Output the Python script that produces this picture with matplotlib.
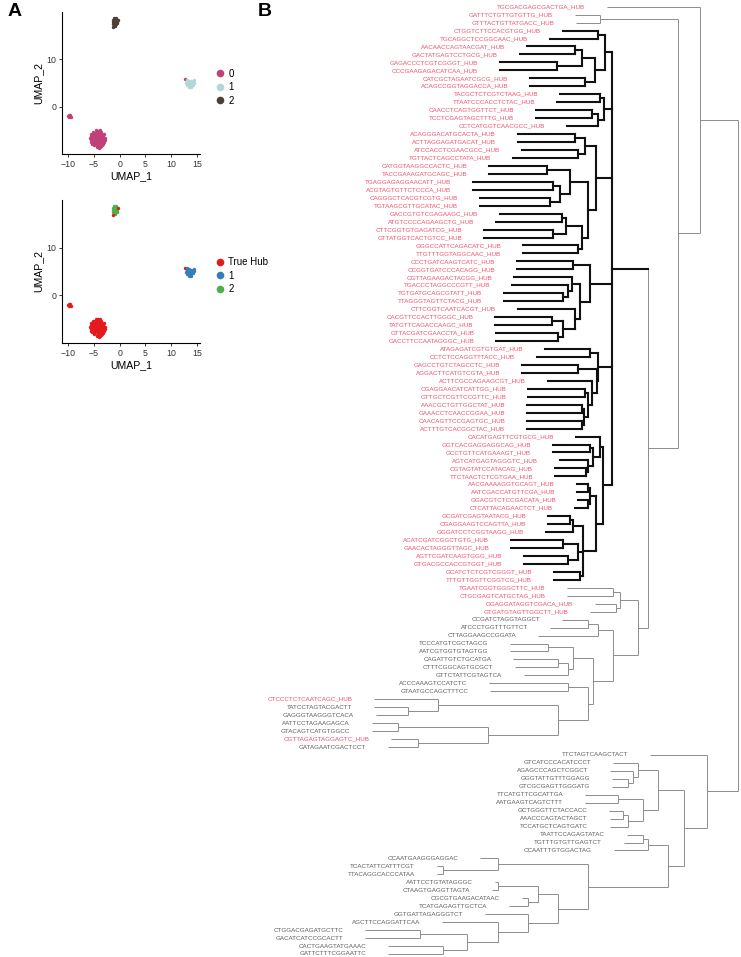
import matplotlib
matplotlib.use('Agg')
import matplotlib.pyplot as plt
from matplotlib.lines import Line2D

plt.rcParams['font.family'] = ['Liberation Sans', 'DejaVu Sans']

# ---------------- Panel A data ----------------
blob_x = [-4.6, -4.2, -3.8,
          -5.2, -4.8, -4.4, -4.0, -3.6,
          -5.5, -5.1, -4.7, -4.3, -3.9, -3.5, -3.1,
          -5.6, -5.2, -4.8, -4.4, -4.0, -3.6, -3.2,
          -5.7, -5.3, -4.9, -4.5, -4.1, -3.7, -3.3, -2.9,
          -5.6, -5.2, -4.8, -4.4, -4.0, -3.6, -3.2, -2.9,
          -5.5, -5.1, -4.7, -4.3, -3.9, -3.5, -3.1,
          -5.3, -4.9, -4.5, -4.1, -3.7, -3.3,
          -4.9, -4.5, -4.1, -3.7, -3.4,
          -4.5, -4.1, -3.8]
blob_y = [-4.9, -5.0, -4.9,
          -5.3, -5.4, -5.3, -5.4, -5.3,
          -5.7, -5.8, -5.7, -5.8, -5.7, -5.8, -5.7,
          -6.1, -6.2, -6.1, -6.2, -6.1, -6.2, -6.1,
          -6.5, -6.6, -6.5, -6.6, -6.5, -6.6, -6.5, -6.6,
          -6.9, -7.0, -6.9, -7.0, -6.9, -7.0, -6.9, -7.0,
          -7.3, -7.4, -7.3, -7.4, -7.3, -7.4, -7.3,
          -7.7, -7.8, -7.7, -7.8, -7.7, -7.8,
          -8.1, -8.2, -8.1, -8.2, -8.1,
          -8.5, -8.6, -8.5]
small_x = [-9.9, -9.6, -9.8, -10.0, -9.7, -9.5]
small_y = [-1.8, -2.0, -2.2, -2.0, -1.7, -2.2]
stray_x = [12.6]
stray_y = [5.8]
c1_x = [13.0, 13.4, 13.8, 14.2, 12.9, 13.3, 13.7, 14.1, 14.4, 13.1, 13.5, 13.9, 14.2, 13.4, 13.8, 13.6, 14.5, 13.0]
c1_y = [5.3, 5.5, 5.4, 5.3, 4.9, 5.0, 5.0, 4.9, 5.1, 4.5, 4.5, 4.4, 4.6, 4.1, 4.1, 4.8, 5.6, 5.7]
c2_x = [-1.2, -0.8, -0.5, -1.3, -0.9, -0.6, -1.2, -0.8, -0.5, -1.0, -0.7, -1.1]
c2_y = [18.3, 18.4, 18.1, 17.9, 17.9, 17.7, 17.4, 17.3, 17.5, 17.0, 18.6, 18.6]
c2hub_x = [-1.3, -0.4]
c2hub_y = [16.85, 18.3]

seurat_labels = ['0', '1', '2']
seurat_colors = ['#C1407A', '#B3D7D6', '#4C3F38']
truth_labels = ['True Hub', '1', '2']
truth_colors = ['#E41A1C', '#377EB8', '#4DAF4A']
x_ticks = [-10, -5, 0, 5, 10, 15]
y_ticks = [0, 10]

# ---------------- Panel B data ----------------
leaf_names = [
    'TGCGACGAGCGACTGA_HUB', 'GATTTCTGTTGTGTTG_HUB', 'GTTTACTGTTATGACC_HUB', 'CTGGTCTTCCACGTGG_HUB',
    'TGCAGGCTCCGGCAAC_HUB', 'AACAACCAGTAACGAT_HUB', 'GACTATGAGTCCTGCG_HUB', 'GAGACCCTCGTCGGGT_HUB',
    'CCCGAAGAGACATCAA_HUB', 'CATCGCTAGAATCGCG_HUB', 'ACAGCCGGTAGGACCA_HUB', 'TACGCTCTCGTCTAAG_HUB',
    'TTAATCCCACCTCTAC_HUB', 'CAACCTCAGTGGTTCT_HUB', 'TCCTCGAGTAGCTTTG_HUB', 'CCTCATGGTCAACGCC_HUB',
    'ACAGGGACATGCACTA_HUB', 'ACTTAGGAGATGACAT_HUB', 'ATCCACCTCGAACGCC_HUB', 'TGTTACTCAGCCTATA_HUB',
    'CATGGTAAGGCCACTC_HUB', 'TACCGAAAGATGCAGC_HUB', 'TGAGGAGAGGAACATT_HUB', 'ACGTAGTGTTCTCCCA_HUB',
    'CAGGGCTCACGTCGTG_HUB', 'TGTAAGCGTTGCATAC_HUB', 'GACCGTGTCGAGAAGC_HUB', 'ATGTCCCCAGAAGCTG_HUB',
    'CTTCGGTGTGAGATCG_HUB', 'GTTATGGTCACTGTCC_HUB', 'GGGCCATTCAGACATC_HUB', 'TTGTTTGGTAGGCAAC_HUB',
    'CCCTGATCAAGTCATC_HUB', 'CCGGTGATCCCACAGG_HUB', 'CGTTAGAAGACTACGG_HUB', 'TGACCCTAGGCCCGTT_HUB',
    'TGTGATGCAGCGTATT_HUB', 'TTAGGGTAGTTCTACG_HUB', 'CTTCGGTCAATCACGT_HUB', 'CACGTTCCACTTGGGC_HUB',
    'TATGTTCAGACCAAGC_HUB', 'GTTACGATCGAACCTA_HUB', 'GACCTTCCAATAGGGC_HUB', 'ATAGAGATCGTGTGAT_HUB',
    'CCTCTCCAGGTTTACC_HUB', 'GAGCCTGTCTAGCCTC_HUB', 'AGGACTTCATGTCGTA_HUB', 'ACTTCGCCAGAAGCGT_HUB',
    'CGAGGAACATCATTGG_HUB', 'GTTGCTCGTTCCGTTC_HUB', 'AAACGCTGTTGGCTAT_HUB', 'GAAACCTCAACCGGAA_HUB',
    'CAACAGTTCCGAGTGC_HUB', 'ACTTTGTCACGGCTAC_HUB', 'CACATGAGTTCGTGCG_HUB', 'GGTCACGAGGAGGCAG_HUB',
    'GCCTGTTCATGAAAGT_HUB', 'AGTCATGAGTAGGGTC_HUB', 'CGTAGTATCCATACAG_HUB', 'TTCTAACTCTCGTGAA_HUB',
    'AACGAAAAGGTGCAGT_HUB', 'AATCGACCATGTTCGA_HUB', 'GGACGTCTCCGACATA_HUB', 'CTCATTACAGAACTCT_HUB',
    'GCGATCGAGTAATACG_HUB', 'CGAGGAAGTCCAGTTA_HUB', 'GGGATCCTCGGTAAGG_HUB', 'ACATCGATCGGCTGTG_HUB',
    'GAACACTAGGGTTAGC_HUB', 'AGTTCGATCAAGTGGG_HUB', 'GTGACGCCACCGTGGT_HUB', 'GCATCTCTCGTCGGGT_HUB',
    'TTTGTTGGTTCGGTCG_HUB', 'TGAATCGGTGGGCTTC_HUB', 'CTGCGAGTCATGCTAG_HUB', 'GGAGGATAGGTCGACA_HUB',
    'GTGATGTAGTTGGCTT_HUB', 'CCGATCTAGGTAGGCT', 'ATCCCTGGTTTGTTCT', 'CTTAGGAAGCCGGATA',
    'TCCCATGTCGCTAGCG', 'AATCGTGGTGTAGTGG', 'CAGATTGTCTGCATGA', 'CTTTCGGCAGTGCGCT',
    'GTTCTATTCGTAGTCA', 'ACCCAAAGTCCATCTC', 'GTAATGCCAGCTTTCC', 'CTCCCTCTCAATCAGC_HUB',
    'TATCCTAGTACGACTT', 'GAGGGTAAGGGTCACA', 'AATTCCTAGAAGAGCA', 'GTACAGTCATGTGGCC',
    'CGTTAGAGTAGGAGTC_HUB', 'GATAGAATCGACTCCT', 'TTCTAGTCAAGCTACT', 'GTCATCCCACATCCCT',
    'AGAGCCCAGCTCGGCT', 'GGGTATTGTTTGGAGG', 'GTCGCGAGTTGGGATG', 'TTCATGTTCGCATTGA',
    'AATGAAGTCAGTCTTT', 'GCTGGGTTCTACCACC', 'AAACCCAGTACTAGCT', 'TCCATGCTCAGTGATC',
    'TAATTCCAGAGTATAC', 'TGTTTGTGTTGAGTCT', 'CCAATTTGTGGACTAG', 'CCAATGAAGGGAGGAC',
    'TCACTATTCATTTCGT', 'TTACAGGCACCCATAA', 'AATTCCTGTATAGGGC', 'CTAAGTGAGGTTAGTA',
    'CGCGTGAAGACATAAC', 'TCATGAGAGTTGCTCA', 'GGTGATTAGAGGGTCT', 'AGCTTCCAGGATTCAA',
    'CTGGACGAGATGCTTC', 'GACATCATCCGCACTT', 'CACTGAAGTATGAAAC', 'GATTCTTTCGGAATTC']

# distance of each tip from the root (tree units)
tip_dist = [131, 163, 162, 175, 188, 211, 218, 238, 238, 208,
            208, 178, 181, 202, 202, 171, 220, 220, 216, 225,
            249, 249, 265, 265, 258, 258, 238, 242, 254, 254,
            215, 215, 221, 221, 224, 226, 234, 234, 220, 243,
            243, 242, 242, 193, 201, 216, 216, 190, 210, 210,
            211, 211, 211, 211, 162, 185, 185, 178, 183, 183,
            161, 161, 160, 163, 190, 190, 192, 227, 227, 214,
            214, 184, 184, 171, 171, 143, 148, 176, 188, 200,
            228, 228, 225, 223, 214, 249, 248, 364, 364, 362,
            366, 366, 347, 350, 88, 125, 128, 126, 126, 153,
            153, 129, 128, 128, 111, 114, 124, 258, 301, 301,
            243, 246, 216, 229, 253, 296, 373, 373, 350, 350]

# tree topology: [node distance from root, children...]; ints are leaf numbers (1-based)
hub_g1 = [133, [140, 4, 5], [143, [156, [163, 6, 7], [181, 8, 9]], [153, 10, 11]]]
hub_g2 = [134, [138, 12, 13], [140, [146, 14, 15], 16]]
hub_g3 = [142, [153, [163, 17, 18], [160, 19, 20]],
          [150, [168, [191, 21, 22], [178, [185, 23, 24], [188, 25, 26]]],
                [156, [172, [176, 27, 28], [185, 29, 30]], [160, 31, 32]]]]
hub_g4 = [148, [165, 33, 34], [158, [166, 35, [170, 36, [175, 37, 38]]],
                               [163, 39, [175, [186, 40, 41], [180, 42, 43]]]]]
hub_g5 = [140, [148, 44, 45], [141, [160, 46, 47], [146, 48, [150, [153, 49, 50], [154, [156, 51, 52], [156, 53, 54]]]]]]
hub_g6 = [135, [138, 55, [145, [148, 56, 57], [150, 58, [152, 59, 60]]]],
          [142, [148, [150, 61, 62], [150, 63, 64]],
                [155, [165, [168, 65, 66], 67], [160, [175, 68, 69], [170, 70, 71]], [158, 72, 73]]]]
hub_clade = [126, hub_g1, hub_g2, hub_g3, hub_g4, hub_g5, hub_g6]
grey_clade = [100, [118, [125, 74, 75], [122, 76, 77]],
              [125, [140, [150, 78, 79], 80],
                    [145, [165, [190, 81, 82], [170, [180, 83, 84], 85]],
                          [150, [170, 86, 87],
                                [180, [300, 88, [330, 89, 90]], [250, [340, 91, 92], [320, 93, 94]]]]]]]
top_clade = [38, 1, [60, [138, 2, 3], [90, hub_clade, grey_clade]]]
low_upper = [80, [100, 96, [105, 97, [110, 98, 99]]], [95, [120, 100, 101], [110, [115, 102, 103], 104]]]
low_mid = [90, [95, 105, 106], 107]
low_low = [150, [240, 108, [295, 109, 110]],
           [180, [200, [240, 111, 112], [210, 113, 114]], [210, 115, [240, 116, [271, [318, 117, 118], [295, 119, 120]]]]]]
bottom_clade = [31, 95, [54, low_upper, [70, low_mid, low_low]]]
tree = [0, top_clade, bottom_clade]

bold_leaves = list(range(4, 74))

hub_red = '#F0506E'
other_grey = '#5E5E5E'

# ---------------- figure ----------------
W, H = 741, 957
fig = plt.figure(figsize=(W / 100, H / 100), dpi=100)


def px_axes(left, top, right, bottom):
    return fig.add_axes([left / W, 1 - bottom / H, (right - left) / W, (bottom - top) / H])


def umap_panel(ax, groups, colors, labels):
    for (gx, gy), col in zip(groups, colors):
        ax.scatter(gx, gy, s=6, color=col, linewidths=0)
    ax.set_xlim(-11.2, 15.6)
    ax.set_ylim(-9.9, 19.9)
    ax.set_xticks(x_ticks)
    ax.set_xticklabels([str(t).replace('-', '\u2212') for t in x_ticks])
    ax.set_yticks(y_ticks)
    for s in ['top', 'right']:
        ax.spines[s].set_visible(False)
    for s in ['left', 'bottom']:
        ax.spines[s].set_linewidth(0.8)
    ax.tick_params(labelsize=6.3, length=2.5, width=0.7, pad=1.5, colors='#333333', labelcolor='#333333')
    ax.set_xlabel('UMAP_1', fontsize=7.6, labelpad=1.5)
    ax.set_ylabel('UMAP_2', fontsize=7.6, labelpad=2)
    handles = [Line2D([0], [0], marker='o', linestyle='none', markersize=5.5, markerfacecolor=c,
                      markeredgewidth=0) for c in colors]
    ax.legend(handles, labels, loc='center left', bbox_to_anchor=(1.07, 0.47), frameon=False,
              fontsize=7.0, handletextpad=0.2, labelspacing=0.35, borderpad=0, handlelength=1.2)


ax1 = px_axes(62, 12, 200, 154)
umap_panel(ax1,
           [(blob_x + small_x + stray_x, blob_y + small_y + stray_y), (c1_x, c1_y),
            (c2_x + c2hub_x, c2_y + c2hub_y)],
           seurat_colors, seurat_labels)
ax2 = px_axes(62, 200, 200, 343)
umap_panel(ax2,
           [(blob_x + small_x + stray_x, blob_y + small_y + stray_y), (c1_x, c1_y), (c2_x, c2_y)],
           truth_colors, truth_labels)
ax2.scatter(c2hub_x, c2hub_y, s=6, color=truth_colors[0], linewidths=0)

fig.text(8 / W, 1 - 12 / H, 'A', fontsize=14, fontweight='bold', va='center', ha='left')
fig.text(258 / W, 1 - 12 / H, 'B', fontsize=14, fontweight='bold', va='center', ha='left')

# ---------------- dendrogram ----------------
axd = px_axes(250, 0, W, H)
axd.set_xlim(488, -3)
axd.set_ylim(119.38, -0.84)
axd.axis('off')

bold_segs, thin_segs = [], []


def layout(node):
    """returns (y, dist, all_bold)"""
    if isinstance(node, int):
        return node - 1, tip_dist[node - 1], node in bold_leaves
    d = node[0]
    kids = [layout(c) for c in node[1:]]
    ys = [k[0] for k in kids]
    bold = all(k[2] for k in kids)
    for ky, kd, kb in kids:
        (bold_segs if kb else thin_segs).append([(d, ky), (kd, ky)])
    (bold_segs if bold else thin_segs).append([(d, min(ys)), (d, max(ys))])
    return (ys[0] + ys[-1]) / 2, d, bold


layout(tree)
for seg in thin_segs:
    axd.plot([seg[0][0], seg[1][0]], [seg[0][1], seg[1][1]], color='#8C8C8C', lw=0.7,
             solid_capstyle='butt')
for seg in bold_segs:
    axd.plot([seg[0][0], seg[1][0]], [seg[0][1], seg[1][1]], color='#111111', lw=1.5,
             solid_capstyle='projecting')

for i, name in enumerate(leaf_names):
    col = hub_red if name.endswith('_HUB') else other_grey
    axd.text(tip_dist[i] + 22, i, name, ha='right', va='center', fontsize=4.5, color=col)

fig.savefig('out.png', dpi=100)
